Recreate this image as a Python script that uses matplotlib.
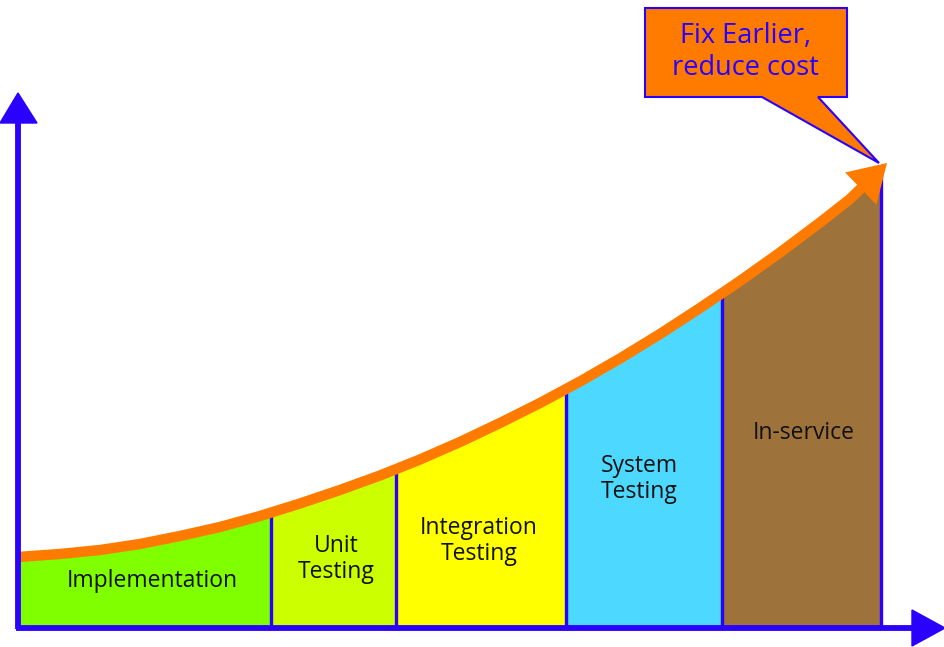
import matplotlib
matplotlib.use("Agg")
import matplotlib.pyplot as plt
from matplotlib.patches import Polygon
import numpy as np

# ---- data (x = position along the project timeline, y = relative cost) ----
phases = ["Implementation", "Unit\nTesting", "Integration\nTesting", "System\nTesting", "In-service"]
phase_edges = [18, 271, 396, 566, 722, 881]
phase_colors = ["#80ff00", "#ccff00", "#ffff00", "#4dd8ff", "#9e723b"]
label_pos_x = [152, 336, 479, 639, 804]
label_pos_y = [47, 69, 87, 149, 195]

curve_x = [18, 60, 100, 140, 180, 220, 260, 300, 340, 380, 420, 460, 500,
           540, 580, 620, 660, 700, 740, 780, 820, 850, 881]
curve_y = [71, 74, 78, 84, 92, 101, 112, 124.5, 138, 152.5, 168.5, 186, 205,
           225, 246.5, 269.5, 294, 320, 347, 375.5, 405.5, 429, 454]
arrow_tip = (887, 465)

callout_text = "Fix Earlier,\nreduce cost"

BLUE = "#2a00ff"
ORANGE = "#ff7b00"

fig = plt.figure(figsize=(9.45, 6.47), dpi=100)
ax = fig.add_axes([0, 0, 1, 1])
ax.set_xlim(0, 945)
ax.set_ylim(-19, 628)
ax.axis("off")

cx = np.array(curve_x, float)
cy = np.array(curve_y, float)

# filled phase regions beneath the curve
for i, col in enumerate(phase_colors):
    x0, x1 = phase_edges[i], phase_edges[i + 1]
    xs = np.concatenate(([x0], cx[(cx > x0) & (cx < x1)], [x1]))
    ys = np.interp(xs, cx, cy)
    ax.fill_between(xs, 0, ys, color=col, lw=0, zorder=1)

# dividers
for e in phase_edges[1:]:
    top = np.interp(e, cx, cy)
    ax.plot([e, e], [0, top], color=BLUE, lw=2.4, zorder=2)

# orange cost curve ending in an arrow head
start = np.array([cx[-2], cy[-2]])
tip = np.array(arrow_tip, float)
direction = (tip - start) / np.hypot(*(tip - start))
base = tip - direction * 28
line_x = np.append(cx[:-1], base[0])
line_y = np.append(cy[:-1], base[1])
ax.plot(line_x, line_y, color=ORANGE, lw=7.5, solid_capstyle="butt",
        solid_joinstyle="round", zorder=4)
ax.annotate("", xy=arrow_tip, xytext=tuple(start - direction * 10),
            arrowprops=dict(arrowstyle="-|>,head_length=1.55,head_width=0.95",
                            color=ORANGE, lw=0, mutation_scale=17,
                            shrinkA=0, shrinkB=0), zorder=5)

# axes with arrowheads
ax.plot([18, 18], [-1, 505], color=BLUE, lw=4.2, solid_capstyle="butt", zorder=6)
ax.plot([16, 915], [0, 0], color=BLUE, lw=4.2, solid_capstyle="butt", zorder=6)
ax.add_patch(Polygon([[0, 505], [37, 505], [18, 535]], closed=True, color=BLUE, zorder=7))
ax.add_patch(Polygon([[912, 18], [912, -18], [945, 0]], closed=True, color=BLUE, zorder=7))

# phase labels
for name, x, y in zip(phases, label_pos_x, label_pos_y):
    ax.text(x, y, name, ha="center", va="center", fontsize=16.5, family="Open Sans",
            color="#111111", linespacing=1.13, zorder=8)

# callout
callout = Polygon([[645, 620], [847, 620], [847, 531], [818, 531], [879, 465],
                   [762, 531], [645, 531]], closed=True, facecolor=ORANGE,
                  edgecolor=BLUE, lw=1.5, zorder=9)
ax.add_patch(callout)
ax.text(745, 576, callout_text, ha="center", va="center", fontsize=19.5,
        family="Open Sans", color=BLUE, linespacing=1.19, zorder=10)

fig.savefig("out.png", dpi=100)
